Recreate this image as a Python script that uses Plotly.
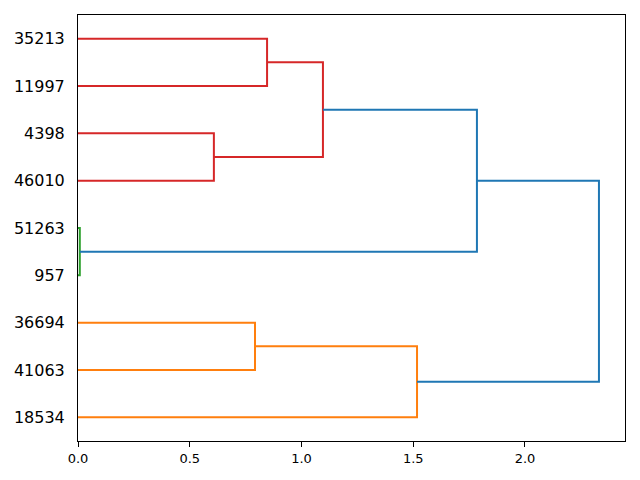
import plotly.graph_objects as go

# Leaf labels in order from bottom to top
leaf_labels = ["18534", "41063", "36694", "957", "51263", "46010", "4398", "11997", "35213"]

# Merges (node ids: leaves 0..8, new nodes 9.. in order)
merge_left = [3, 1, 5, 7, 0, 11, 9, 13]
merge_right = [4, 2, 6, 8, 10, 12, 14, 15]
merge_height = [0.008, 0.792, 0.608, 0.846, 1.517, 1.096, 1.785, 2.331]
merge_cluster = ["C2", "C1", "C3", "C3", "C1", "C3", "C0", "C0"]

x_ticks = [0.0, 0.5, 1.0, 1.5, 2.0]

palette = {"C0": "#1f77b4", "C1": "#ff7f0e", "C2": "#2ca02c", "C3": "#d62728"}

n = len(leaf_labels)
pos = [5 + 10 * i for i in range(n)]
hgt = [0.0] * n
segs = {}
for l, r, h, c in zip(merge_left, merge_right, merge_height, merge_cluster):
    xs, ys = segs.setdefault(c, ([], []))
    xs += [hgt[l], h, h, hgt[r], None]
    ys += [pos[l], pos[l], pos[r], pos[r], None]
    pos.append((pos[l] + pos[r]) / 2)
    hgt.append(h)

fig = go.Figure()
for c in ["C1", "C2", "C3", "C0"]:
    if c in segs:
        xs, ys = segs[c]
        fig.add_trace(go.Scatter(x=xs, y=ys, mode="lines",
                                 line=dict(color=palette[c], width=2),
                                 showlegend=False, hoverinfo="skip",
                                 cliponaxis=False))

# page body has an 8px default margin, so the figure is slightly smaller
fig.update_layout(
    width=632, height=472,
    margin=dict(l=70, r=15, t=7, b=39),
    paper_bgcolor="white", plot_bgcolor="white",
    font=dict(family="DejaVu Sans", color="black"),
)
fig.update_xaxes(range=[0, max(merge_height) * 1.05], tickvals=x_ticks,
                 ticktext=[f"{v:.1f}" for v in x_ticks], tickfont=dict(size=13),
                 showgrid=False, zeroline=False, showline=True, mirror=True,
                 linecolor="black", linewidth=1, ticks="outside", ticklen=5,
                 tickcolor="black", tickwidth=1, automargin=False)
fig.update_yaxes(range=[0, 10 * n], tickvals=[5 + 10 * i for i in range(n)],
                 ticktext=leaf_labels, tickfont=dict(size=16),
                 showgrid=False, zeroline=False, showline=True, mirror=True,
                 linecolor="black", linewidth=1, ticks="", automargin=False,
                 ticklabelstandoff=9)

fig.write_html("out.html")
